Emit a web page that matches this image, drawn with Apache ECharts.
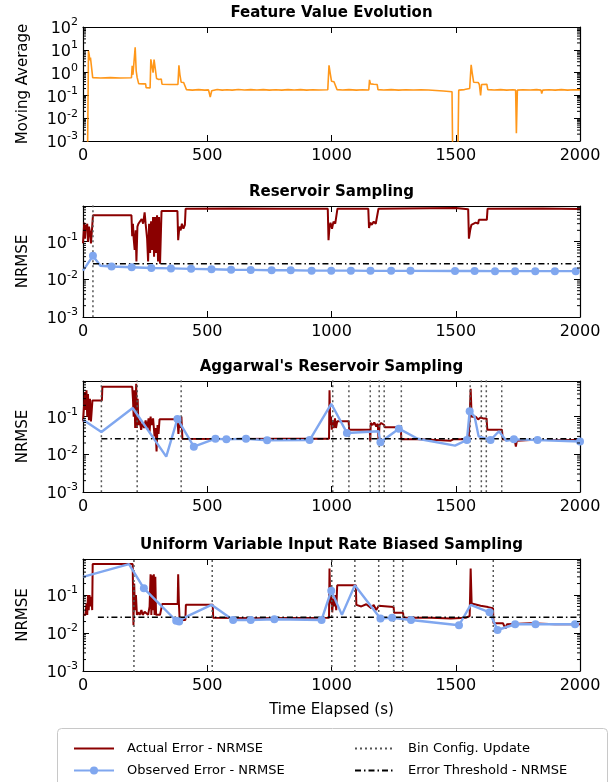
<!DOCTYPE html>
<html>
<head>
<meta charset="UTF-8">
<title>Sampling error evolution</title>
<script src="https://cdn.jsdelivr.net/npm/echarts@6/dist/echarts.min.js"></script>
<style>
    html, body { margin: 0; padding: 0; background: #fff; }
    #chart { width: 615px; height: 782px; }
</style>
</head>
<body>
<div id="chart"></div>
<script>
// ---- data: [time (s), value] ----
const featureAvg = [
    [18, 0.0001], [22, 9], [25, 6], [27, 3.5], [30, 4.6], [33, 3.8], [36, 4.2], [39, 0.6],
    [70, 0.58], [110, 0.6], [150, 0.58], [195, 0.59], [198, 2.0], [201, 0.8], [205, 0.7], [210, 13],
    [214, 1.2], [218, 0.6], [224, 0.33], [240, 0.32], [252, 0.32], [254, 0.22], [270, 0.21],
    [273, 3.8], [278, 3.6], [282, 1.0], [286, 3.7], [292, 3.5], [296, 0.55], [305, 0.5], [315, 0.52],
    [318, 0.31], [350, 0.3], [382, 0.3], [386, 2.1], [390, 0.8], [395, 0.38], [405, 0.37], [412, 0.36],
    [416, 0.18], [440, 0.17], [465, 0.18], [490, 0.17], [505, 0.175], [512, 0.085], [518, 0.16],
    [540, 0.18], [560, 0.17], [580, 0.178], [600, 0.17], [625, 0.182], [650, 0.172], [675, 0.18],
    [700, 0.172], [725, 0.18], [750, 0.171], [775, 0.178], [800, 0.17], [825, 0.18], [850, 0.172],
    [875, 0.18], [900, 0.171], [925, 0.178], [950, 0.172], [985, 0.176], [990, 2.1], [995, 0.9],
    [1000, 0.42], [1010, 0.4], [1018, 0.4], [1022, 0.18], [1045, 0.172], [1070, 0.18], [1100, 0.171],
    [1125, 0.178], [1150, 0.172], [1153, 0.48], [1157, 0.32], [1170, 0.31], [1184, 0.3], [1187, 0.18],
    [1210, 0.172], [1240, 0.179], [1270, 0.171], [1300, 0.178], [1330, 0.172], [1360, 0.177],
    [1390, 0.172], [1420, 0.165], [1450, 0.157], [1485, 0.145], [1488, 0.0001], [1508, 0.0001],
    [1512, 0.17], [1535, 0.18], [1556, 0.2], [1562, 2.2], [1566, 1.0], [1572, 0.38], [1590, 0.37],
    [1595, 0.3], [1600, 0.1], [1604, 0.3], [1625, 0.31], [1629, 0.18], [1655, 0.172], [1680, 0.179],
    [1705, 0.171], [1730, 0.178], [1741, 0.17], [1744, 0.0022], [1748, 0.17], [1770, 0.178],
    [1800, 0.172], [1825, 0.179], [1843, 0.17], [1846, 0.12], [1850, 0.17], [1875, 0.178],
    [1900, 0.171], [1925, 0.179], [1950, 0.17], [1975, 0.177], [2000, 0.175]
];

// Reservoir Sampling
const rsActual = [
    [0, 0.09], [5, 0.32], [8, 0.12], [11, 0.28], [14, 0.2], [17, 0.3], [20, 0.1], [24, 0.25],
    [28, 0.18], [32, 0.09], [36, 0.2], [40, 0.5], [195, 0.5], [198, 0.14], [201, 0.3], [204, 0.12],
    [208, 0.06], [212, 0.2], [215, 0.03], [219, 0.25], [223, 0.3], [230, 0.28], [236, 0.4],
    [242, 0.3], [248, 0.6], [252, 0.3], [258, 0.12], [262, 0.03], [266, 0.3], [270, 0.05],
    [274, 0.35], [278, 0.06], [282, 0.45], [286, 0.04], [290, 0.45], [294, 0.05], [298, 0.5],
    [302, 0.03], [306, 0.45], [310, 0.026], [314, 0.026], [316, 0.65], [380, 0.65], [383, 0.11],
    [388, 0.25], [393, 0.2], [398, 0.3], [404, 0.22], [410, 0.28], [413, 0.75], [600, 0.76],
    [800, 0.75], [985, 0.75], [988, 0.11], [992, 0.25], [996, 0.32], [1002, 0.22], [1008, 0.34],
    [1015, 0.3], [1022, 0.32], [1024, 0.75], [1148, 0.75], [1151, 0.23], [1156, 0.32], [1162, 0.28],
    [1170, 0.34], [1178, 0.3], [1186, 0.32], [1189, 0.75], [1500, 0.78], [1505, 0.73], [1550, 0.73],
    [1553, 0.12], [1558, 0.2], [1563, 0.28], [1570, 0.25], [1580, 0.32], [1590, 0.3], [1593, 0.38],
    [1625, 0.38], [1628, 0.75], [1850, 0.76], [2000, 0.74]
];
// [time, NRMSE, sample marker shown]
const rsObserved = [
    [0, 0.017, 0], [40, 0.042, 1], [70, 0.023, 0], [115, 0.022, 1], [196, 0.021, 1], [275, 0.02, 1],
    [354, 0.0195, 1], [435, 0.019, 1], [517, 0.0185, 1], [596, 0.018, 1], [675, 0.0178, 1],
    [759, 0.0175, 1], [836, 0.0175, 1], [920, 0.017, 1], [999, 0.017, 1], [1078, 0.017, 1],
    [1157, 0.0168, 1], [1240, 0.0168, 1], [1318, 0.0168, 1], [1497, 0.0166, 1], [1576, 0.0166, 1],
    [1658, 0.0165, 1], [1739, 0.0165, 1], [1820, 0.0165, 1], [1899, 0.0165, 1], [1983, 0.0165, 1]
];
const rsUpdates = [40];

// Aggarwal's Reservoir Sampling
const arsActual = [
    [0, 0.075], [5, 0.07], [8, 0.45], [11, 0.15], [14, 0.5], [17, 0.1], [20, 0.4], [24, 0.08],
    [28, 0.3], [32, 0.075], [38, 0.27], [76, 0.27], [78, 0.62], [198, 0.62], [201, 0.3], [204, 0.1],
    [207, 0.5], [210, 0.05], [214, 0.75], [217, 0.05], [220, 0.3], [223, 0.06], [228, 0.08],
    [234, 0.045], [240, 0.07], [246, 0.05], [252, 0.08], [258, 0.05], [264, 0.09], [268, 0.04],
    [272, 0.1], [276, 0.06], [282, 0.09], [288, 0.03], [292, 0.05], [296, 0.012], [300, 0.06],
    [304, 0.035], [308, 0.085], [380, 0.085], [384, 0.035], [388, 0.09], [392, 0.05], [396, 0.1],
    [400, 0.026], [600, 0.0255], [800, 0.026], [990, 0.026], [992, 0.5], [995, 0.06], [998, 0.1],
    [1001, 0.045], [1005, 0.08], [1009, 0.05], [1014, 0.09], [1018, 0.05], [1023, 0.075],
    [1069, 0.075], [1071, 0.045], [1154, 0.045], [1156, 0.022], [1158, 0.068], [1165, 0.06],
    [1172, 0.07], [1180, 0.055], [1186, 0.065], [1190, 0.021], [1193, 0.06], [1200, 0.068],
    [1212, 0.06], [1214, 0.052], [1279, 0.052], [1281, 0.025], [1350, 0.025], [1420, 0.024],
    [1480, 0.023], [1485, 0.021], [1490, 0.025], [1552, 0.025], [1556, 0.1], [1560, 0.55],
    [1564, 0.1], [1570, 0.09], [1580, 0.1], [1590, 0.085], [1600, 0.095], [1610, 0.09], [1624, 0.09],
    [1627, 0.045], [1686, 0.045], [1689, 0.025], [1720, 0.024], [1738, 0.022], [1742, 0.016],
    [1746, 0.023], [1800, 0.024], [1900, 0.024], [2000, 0.024]
];
const arsObserved = [
    [0, 0.083, 0], [74, 0.039, 0], [200, 0.17, 0], [335, 0.0087, 0], [380, 0.087, 1],
    [446, 0.016, 1], [533, 0.026, 1], [577, 0.025, 1], [656, 0.026, 1], [741, 0.0235, 1],
    [912, 0.024, 1], [999, 0.22, 0], [1062, 0.037, 1], [1189, 0.041, 0], [1197, 0.021, 1],
    [1271, 0.048, 1], [1347, 0.026, 0], [1497, 0.017, 0], [1545, 0.024, 1], [1556, 0.14, 1],
    [1576, 0.1, 0], [1592, 0.03, 0], [1640, 0.024, 1], [1674, 0.041, 0], [1703, 0.023, 0],
    [1734, 0.025, 1], [1829, 0.024, 1], [2000, 0.022, 1]
];
const arsUpdates = [74, 218, 395, 1005, 1070, 1156, 1192, 1212, 1281, 1558, 1603, 1623, 1685];

// Uniform Variable Input Rate Biased Sampling
const uvirbsActual = [
    [0, 0.03], [10, 0.03], [14, 0.06], [17, 0.03], [20, 0.1], [23, 0.04], [26, 0.1], [30, 0.05],
    [34, 0.09], [37, 0.04], [39, 0.65], [200, 0.65], [203, 0.016], [206, 0.2], [209, 0.04],
    [213, 0.1], [217, 0.03], [222, 0.035], [228, 0.03], [235, 0.04], [240, 0.03], [248, 0.036],
    [256, 0.035], [262, 0.03], [268, 0.05], [272, 0.35], [275, 0.03], [279, 0.33], [282, 0.04],
    [285, 0.35], [288, 0.03], [291, 0.3], [294, 0.03], [300, 0.03], [310, 0.03], [318, 0.03],
    [319, 0.058], [381, 0.058], [383, 0.35], [386, 0.058], [389, 0.022], [412, 0.022], [414, 0.055],
    [522, 0.055], [524, 0.025], [700, 0.0245], [990, 0.025], [992, 0.5], [995, 0.06], [999, 0.1],
    [1003, 0.035], [1007, 0.08], [1011, 0.05], [1015, 0.1], [1019, 0.04], [1023, 0.18], [1098, 0.18],
    [1100, 0.055], [1120, 0.05], [1140, 0.057], [1160, 0.045], [1170, 0.055], [1180, 0.04],
    [1190, 0.052], [1192, 0.048], [1250, 0.048], [1252, 0.034], [1288, 0.034], [1290, 0.025],
    [1400, 0.025], [1480, 0.024], [1540, 0.025], [1556, 0.028], [1560, 0.5], [1564, 0.06],
    [1570, 0.055], [1600, 0.052], [1630, 0.048], [1650, 0.045], [1652, 0.018], [1690, 0.018],
    [1700, 0.013], [1706, 0.017], [1800, 0.018], [1900, 0.017], [2000, 0.017]
];
const uvirbsObserved = [
    [0, 0.3, 0], [185, 0.65, 0], [245, 0.15, 1], [375, 0.021, 1], [387, 0.02, 1], [406, 0.025, 0],
    [517, 0.055, 0], [604, 0.022, 1], [675, 0.022, 1], [770, 0.023, 1], [960, 0.022, 1],
    [999, 0.13, 1], [1042, 0.03, 0], [1094, 0.18, 0], [1197, 0.024, 1], [1244, 0.025, 1],
    [1320, 0.022, 1], [1513, 0.016, 1], [1560, 0.055, 0], [1636, 0.035, 1], [1668, 0.012, 1],
    [1739, 0.017, 1], [1821, 0.017, 1], [1980, 0.017, 1]
];
const uvirbsUpdates = [205, 520, 1001, 1094, 1190, 1250, 1287, 1651];

const errorThreshold = 0.026;
const thresholdStart = [40, 74, 60];

const titles = ['Feature Value Evolution', 'Reservoir Sampling',
    "Aggarwal's Reservoir Sampling", 'Uniform Variable Input Rate Biased Sampling'];
const actualSets = [rsActual, arsActual, uvirbsActual];
const observedSets = [rsObserved, arsObserved, uvirbsObserved];
const updateSets = [rsUpdates, arsUpdates, uvirbsUpdates];

// ---- layout ----
const FONT = 'DejaVu Sans';
const gridTops = [27, 206, 381, 559];
const gridHeights = [114, 111, 111, 112];
const yMins = [0.001, 0.001, 0.001, 0.001];
const yMaxs = [100, 0.885, 0.885, 0.885];

function logLabel(v) {
    const e = Math.round(Math.log10(v));
    if (Math.abs(Math.log10(v) - e) > 1e-6) return '';
    return '{b|10}{s|' + e + '}';
}

const labelRich = {
    b: { fontFamily: FONT, fontSize: 16, color: '#000', verticalAlign: 'bottom' },
    s: { fontFamily: FONT, fontSize: 11, color: '#000', verticalAlign: 'top', padding: [0, 0, 9, 0] }
};

const grid = [], xAxis = [], yAxis = [], series = [];

for (let i = 0; i < 4; i++) {
    grid.push({ left: 83, right: 35, top: gridTops[i], height: gridHeights[i] });

    const tickStyle = { show: true, inside: true, length: 6, lineStyle: { color: '#000', width: 1 } };
    // bottom x axis
    xAxis.push({
        gridIndex: i, type: 'value', min: 0, max: 2000, interval: 500, position: 'bottom',
        axisLine: { show: true, onZero: false, lineStyle: { color: '#000', width: 1.2 } },
        axisTick: tickStyle, splitLine: { show: false },
        axisLabel: { fontFamily: FONT, fontSize: 16, color: '#000', margin: 7,
            formatter: function (v) { return String(v); } },
        name: i === 3 ? 'Time Elapsed (s)' : '', nameLocation: 'middle', nameGap: 32,
        nameTextStyle: { fontFamily: FONT, fontSize: 15, color: '#000' }
    });
    // top x axis carries the subplot title
    xAxis.push({
        gridIndex: i, type: 'value', min: 0, max: 2000, interval: 500, position: 'top',
        axisLine: { show: true, onZero: false, lineStyle: { color: '#000', width: 1.2 } },
        axisTick: tickStyle, splitLine: { show: false }, axisLabel: { show: false },
        name: titles[i], nameLocation: 'middle', nameGap: 6,
        nameTextStyle: { fontFamily: FONT, fontSize: 15, fontWeight: 'bold', color: '#000' }
    });
    yAxis.push({
        gridIndex: i, type: 'log', logBase: 10, min: yMins[i], max: yMaxs[i], position: 'left',
        axisLine: { show: true, onZero: false, lineStyle: { color: '#000', width: 1.2 } },
        axisTick: tickStyle, splitLine: { show: false }, minorTick: { show: false },
        axisLabel: { formatter: logLabel, rich: labelRich, margin: 5, showMaxLabel: true },
        name: i === 0 ? 'Moving Average' : 'NRMSE', nameLocation: 'middle', nameRotate: 90,
        nameGap: 52, nameTextStyle: { fontFamily: FONT, fontSize: 15, color: '#000' }
    });
    yAxis.push({
        gridIndex: i, type: 'log', logBase: 10, min: yMins[i], max: yMaxs[i], position: 'right',
        axisLine: { show: true, onZero: false, lineStyle: { color: '#000', width: 1.2 } },
        axisTick: tickStyle, splitLine: { show: false }, axisLabel: { show: false }
    });

    // minor log ticks (2..9 x 10^k) on both sides
    series.push({
        type: 'custom', name: 'minor' + i, xAxisIndex: 2 * i, yAxisIndex: 2 * i,
        silent: true, data: [[1000, 0.01]], z: 5,
        renderItem: (function (idx) {
            return function (params, api) {
                const cs = params.coordSys;
                const children = [];
                const lo = Math.floor(Math.log10(yMins[idx]));
                const hi = Math.ceil(Math.log10(yMaxs[idx]));
                for (let k = lo; k < hi; k++) {
                    for (let m = 2; m <= 9; m++) {
                        const v = m * Math.pow(10, k);
                        if (v <= yMins[idx] || v >= yMaxs[idx]) continue;
                        const py = api.coord([0, v])[1];
                        children.push({ type: 'line', shape: { x1: cs.x, y1: py, x2: cs.x + 3, y2: py },
                            style: { stroke: '#000', lineWidth: 1 } });
                        children.push({ type: 'line', shape: { x1: cs.x + cs.width - 3, y1: py, x2: cs.x + cs.width, y2: py },
                            style: { stroke: '#000', lineWidth: 1 } });
                    }
                }
                return { type: 'group', children: children };
            };
        })(i)
    });
}

// feature value panel
series.push({
    type: 'line', name: 'Feature', xAxisIndex: 0, yAxisIndex: 0, data: featureAvg,
    symbol: 'none', lineStyle: { color: '#ff8c00', width: 1.6, opacity: 0.9 },
    animation: false
});

for (let p = 0; p < 3; p++) {
    const gi = p + 1;
    series.push({
        type: 'line', name: 'Actual Error - NRMSE', xAxisIndex: 2 * gi, yAxisIndex: 2 * gi,
        data: actualSets[p], symbol: 'none', itemStyle: { color: '#8b0000' },
        lineStyle: { color: '#8b0000', width: 2 }, animation: false
    });
    const vlines = [];
    updateSets[p].forEach(function (t) {
        vlines.push([t, 0.00001], [t, 10], [t, '-']);
    });
    series.push({
        type: 'line', name: 'Bin Config. Update', xAxisIndex: 2 * gi, yAxisIndex: 2 * gi,
        data: vlines, symbol: 'none', connectNulls: false, itemStyle: { color: '#555' },
        lineStyle: { color: '#555', width: 1.5, type: [2, 3] }, animation: false
    });
    series.push({
        type: 'line', name: 'Observed Error - NRMSE', xAxisIndex: 2 * gi, yAxisIndex: 2 * gi,
        data: observedSets[p], symbol: 'circle', showSymbol: true, showAllSymbol: true,
        symbolSize: function (v) { return v[2] ? 8 : 0; },
        itemStyle: { color: '#80a7ef' }, lineStyle: { color: '#80a7ef', width: 2.4 },
        animation: false
    });
    series.push({
        type: 'line', name: 'Error Threshold - NRMSE', xAxisIndex: 2 * gi, yAxisIndex: 2 * gi,
        data: [[thresholdStart[p], errorThreshold], [2000, errorThreshold]], symbol: 'none',
        itemStyle: { color: '#000' }, lineStyle: { color: '#000', width: 1.4, type: [6, 3, 1.5, 3] },
        animation: false
    });
}

const legendText = { fontFamily: FONT, fontSize: 13, color: '#000', padding: [0, 0, 0, 8] };
const noSymbol = { opacity: 0 };

const chart = echarts.init(document.getElementById('chart'));
chart.setOption({
    animation: false,
    backgroundColor: '#fff',
    grid: grid,
    xAxis: xAxis,
    yAxis: yAxis,
    legend: [
        { orient: 'vertical', left: 68, top: 737, itemWidth: 40, itemHeight: 10, itemGap: 9,
          data: [{ name: 'Actual Error - NRMSE', itemStyle: noSymbol }, 'Observed Error - NRMSE'],
          textStyle: legendText, selectedMode: false },
        { orient: 'vertical', left: 349, top: 737, itemWidth: 40, itemHeight: 10, itemGap: 9,
          data: [{ name: 'Bin Config. Update', itemStyle: noSymbol },
                 { name: 'Error Threshold - NRMSE', itemStyle: noSymbol }],
          textStyle: legendText, selectedMode: false }
    ],
    graphic: [{
        type: 'rect', z: -10, silent: true,
        shape: { x: 57.5, y: 728.5, width: 550, height: 70, r: 4 },
        style: { fill: '#fff', stroke: '#c8c8c8', lineWidth: 1 }
    }],
    series: series
});
</script>
</body>
</html>
